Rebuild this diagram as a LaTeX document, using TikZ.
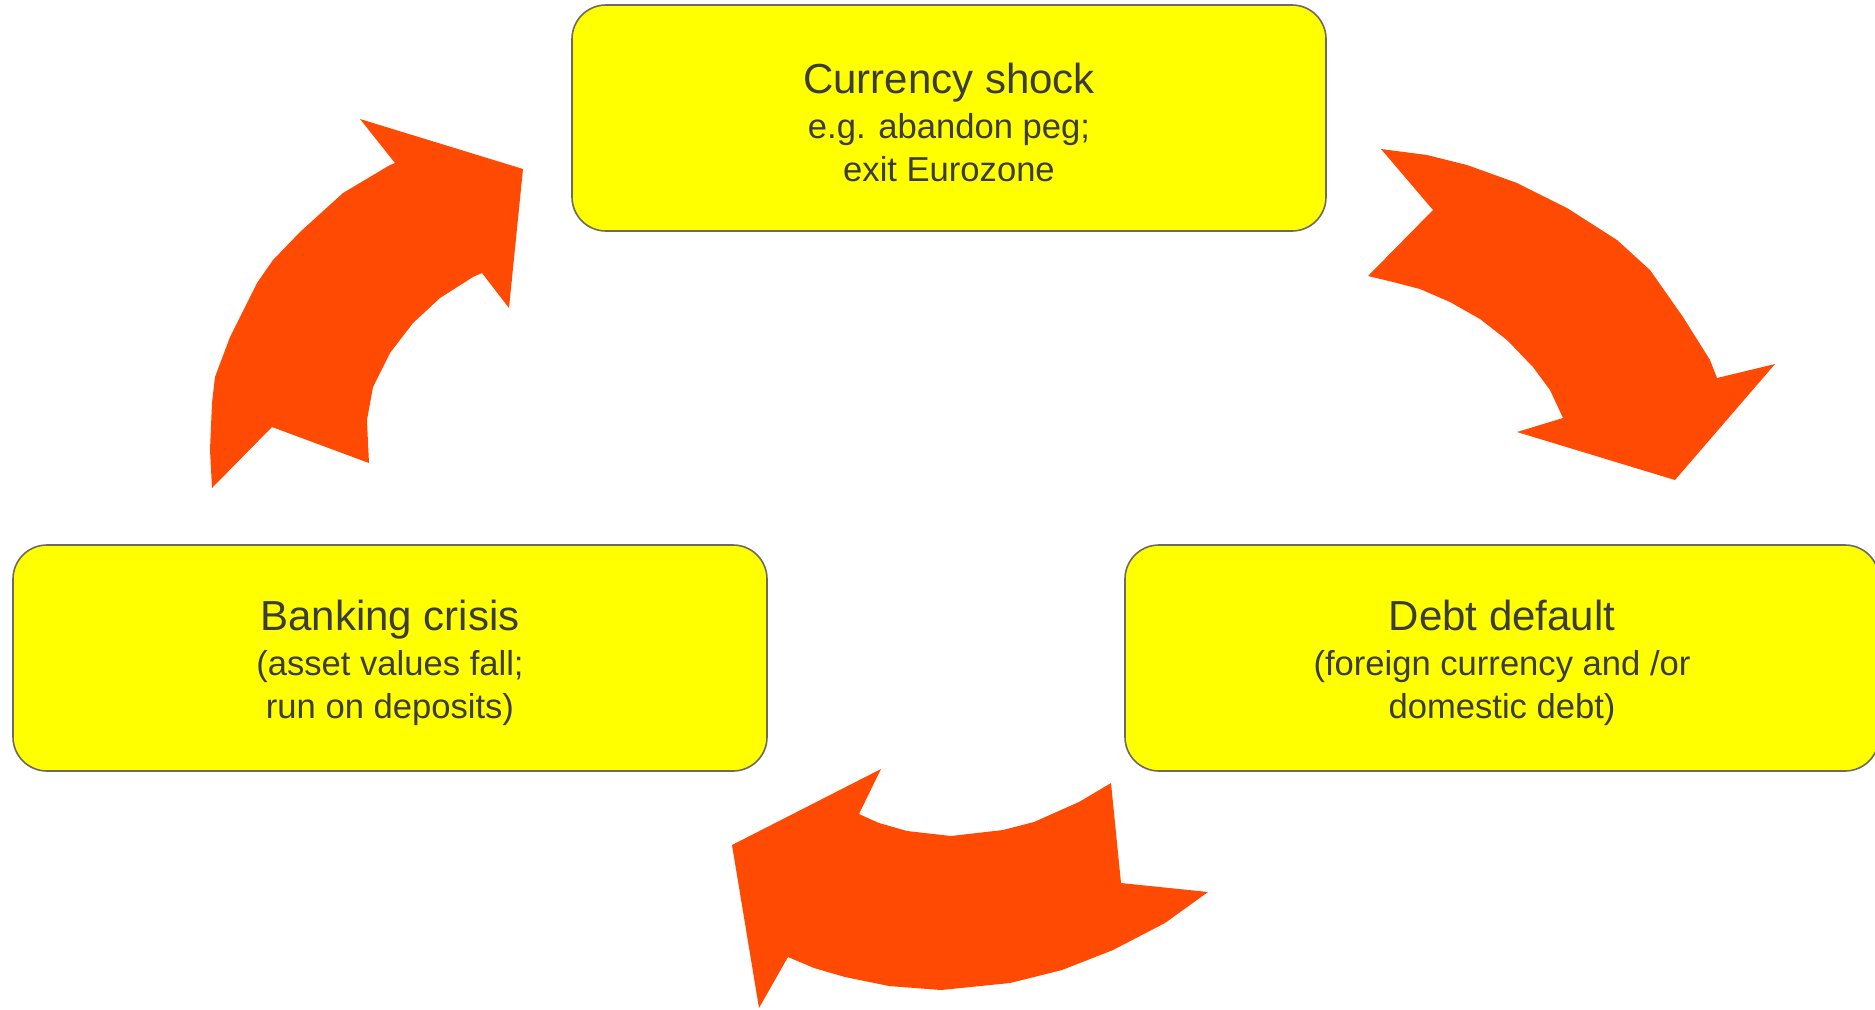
\documentclass[tikz,border=0pt]{standalone}
\usepackage{fontspec}
\setmainfont{Liberation Sans}
\usepackage{tikz}
\usetikzlibrary{positioning}
\usepackage{xcolor}
\definecolor{boxyellow}{HTML}{FFFF00}
\definecolor{boxedge}{HTML}{6E6A5E}
\definecolor{inktext}{HTML}{3C3C3C}
\definecolor{cyclearrow}{HTML}{FF4A03}

\tikzset{
  stagebox/.style={draw=boxedge, line width=0.8pt, fill=boxyellow, rounded corners=17pt,
    minimum width=377pt, minimum height=113pt, inner sep=0pt, align=center,
    text=inktext, font=\fontsize{17.3}{21.5}\selectfont},
  bigarrow/.style={fill=cyclearrow, draw=none}
}
\newcommand{\stagetitle}[1]{{\fontsize{21}{25}\selectfont\rule{0pt}{20pt}#1}\\[1pt]}

\begin{document}
\begin{tikzpicture}[x=0.5pt, y=-0.5pt]
  \useasboundingbox (0,0) rectangle (1875,1009);
  % the three stages
  \node[stagebox] (shock) at (949,118) {\stagetitle{Currency shock}e.g. abandon peg;\\exit Eurozone};
  \node[stagebox] (bank) at (390,658) {\stagetitle{Banking crisis}(asset values fall;\\run on deposits)};
  \node[stagebox] (debt) at (1502,658) {\stagetitle{Debt default}(foreign currency and /or\\domestic debt)};
  % upper left: banking crisis -> currency shock
  \fill[bigarrow] (212,488) -- (210,450) -- (212,403) -- (215,377) -- (230,337) -- (257,283)
    -- (273,260) -- (300,232) -- (343,193) -- (390,165) -- (395,163) -- (360,119)
    -- (523,169) -- (509,308) -- (482,273) -- (473,277) -- (440,298) -- (413,323)
    -- (390,353) -- (373,387) -- (367,420) -- (368,443) -- (369,463) -- (272,427) -- cycle;
  % upper right: currency shock -> debt default
  \fill[bigarrow] (1381,149) -- (1433,210) -- (1368,276) -- (1393,282) -- (1420,289)
    -- (1450,302) -- (1480,319) -- (1507,340) -- (1533,367) -- (1550,390) -- (1563,418)
    -- (1517,432) -- (1675,480) -- (1775,364) -- (1717,378) -- (1710,360) -- (1683,317)
    -- (1650,270) -- (1617,240) -- (1567,208) -- (1517,183) -- (1467,165) -- (1427,155) -- cycle;
  % bottom: debt default -> banking crisis
  \fill[bigarrow] (881,769) -- (859,814) -- (879,823) -- (907,831) -- (951,836) -- (1003,830)
    -- (1034,822) -- (1079,802) -- (1111,783) -- (1121,883) -- (1208,892) -- (1165,923)
    -- (1113,950) -- (1062,970) -- (1010,983) -- (941,990) -- (889,986) -- (845,977)
    -- (814,968) -- (788,957) -- (759,1008) -- (732,845) -- cycle;
\end{tikzpicture}
\end{document}
